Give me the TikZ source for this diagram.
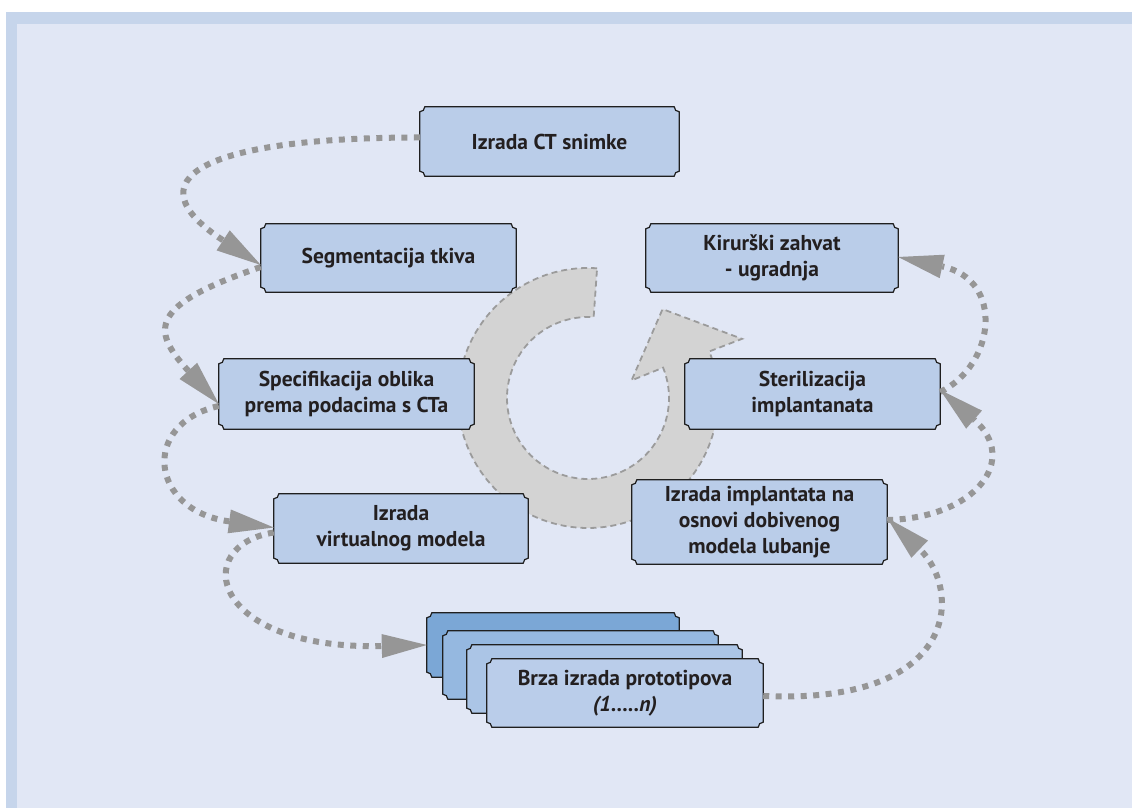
\documentclass[tikz,border=0pt]{standalone}
\usepackage{fontspec}
\setmainfont{PT Sans}
\usetikzlibrary{arrows.meta,calc}
\definecolor{bandc}{RGB}{198,213,235}
\definecolor{innerc}{RGB}{225,231,245}
\definecolor{boxc}{RGB}{186,205,233}
\definecolor{pa}{RGB}{123,167,214}
\definecolor{pb}{RGB}{149,184,224}
\definecolor{pc}{RGB}{171,197,230}
\definecolor{pd}{RGB}{186,205,234}
\definecolor{txtc}{RGB}{35,31,32}
\definecolor{dotc}{RGB}{150,150,150}
\definecolor{ringc}{RGB}{211,211,211}
\definecolor{ringb}{RGB}{155,155,155}
\pgfdeclarelayer{bg}
\pgfsetlayers{bg,main}
\newcommand{\nbox}[2]{%
  \path[draw=black!88, line width=1.2pt, fill=#2]
    ([xshift=5pt]#1.north west) -- ([xshift=-5pt]#1.north east)
    arc[start angle=180,end angle=270,radius=5pt]
    -- ([yshift=5pt]#1.south east)
    arc[start angle=90,end angle=180,radius=5pt]
    -- ([xshift=5pt]#1.south west)
    arc[start angle=0,end angle=90,radius=5pt]
    -- ([yshift=-5pt]#1.north west)
    arc[start angle=270,end angle=360,radius=5pt] -- cycle;}
\tikzset{
  lbl/.style={inner sep=0pt, align=center, text=txtc,
    font=\fontsize{21.5}{26}\selectfont\bfseries},
  conn/.style={draw=dotc, line width=6pt, dash pattern=on 6pt off 6.5pt,
    -{Triangle[length=45pt,width=24pt,fill=dotc,line width=0pt]}},
}
\begin{document}
\begin{tikzpicture}[x=1pt,y=1pt]
\useasboundingbox (0,0) rectangle (1132,808);

% nodes (text)
\node[lbl, minimum width=259pt, minimum height=69pt] (ct) at (549.5,666.5) {Izrada CT snimke};
\node[lbl, minimum width=255pt, minimum height=68pt] (seg) at (388.5,550) {Segmentacija tkiva};
\node[lbl, minimum width=252pt, minimum height=68pt] (kir) at (772,550) {Kirurški zahvat\\- ugradnja};
\node[lbl, minimum width=255pt, minimum height=70pt] (spec) at (346.5,414) {Specifikacija oblika\\prema podacima s CTa};
\node[lbl, minimum width=255pt, minimum height=70pt] (ster) at (812.5,414) {Sterilizacija\\implantanata};
\node[lbl, minimum width=254pt, minimum height=69pt] (virt) at (401,279.5) {Izrada\\virtualnog modela};
\node[lbl, minimum width=255pt, minimum height=84pt] (impl) at (759.5,286) {Izrada implantata na\\osnovi dobivenog\\modela lubanje};
\node[lbl, minimum width=252pt, minimum height=64pt] (p1) at (553,163) {};
\node[lbl, minimum width=275pt, minimum height=68pt] (p2) at (580.5,143) {};
\node[lbl, minimum width=275pt, minimum height=68pt] (p3) at (604.5,129) {};
\node[lbl, minimum width=276pt, minimum height=68pt] (p4) at (625,115) {Brza izrada prototipova\\\itshape(1.....n)};

\begin{pgfonlayer}{bg}
\fill[bandc] (6,0) rectangle (1132,796);
\fill[innerc] (17,0) rectangle (1132,784);
\coordinate (c) at (588,410);
\draw[fill=ringc, draw=ringb, line width=1.8pt, dash pattern=on 6pt off 4pt]
  ($(c)+(86:130)$) arc[start angle=86,end angle=381,radius=130]
  -- ($(c)+(21:165)$) -- ($(c)+(50:116)$) -- ($(c)+(22:47)$)
  -- ($(c)+(22:81)$) arc[start angle=22,end angle=-274,radius=81] -- cycle;
\nbox{ct}{boxc}
\nbox{seg}{boxc}
\nbox{kir}{boxc}
\nbox{spec}{boxc}
\nbox{ster}{boxc}
\nbox{virt}{boxc}
\nbox{impl}{boxc}
\nbox{p1}{pa}
\nbox{p2}{pb}
\nbox{p3}{pc}
\nbox{p4}{pd}
\end{pgfonlayer}

% connectors
\draw[conn] ([yshift=4pt]ct.west) .. controls +(-220,0) and +(-130,85) .. ([yshift=-7pt]seg.west);
\draw[conn] ([yshift=-9pt]seg.west) .. controls +(-111,-38) and +(-69,75) .. ([yshift=-10pt]spec.west);
\draw[conn] ([yshift=-12pt]spec.west) .. controls +(-79,-18) and +(-124,17) .. ([yshift=1pt]virt.west);
\draw[conn] ([yshift=-4pt]virt.west) .. controls +(-84,-13) and +(-217,-5) .. (p1.west);
\draw[conn] ([yshift=-3pt]p4.east) .. controls +(197,-9) and +(75,-72) .. ([yshift=4pt]impl.east);
\draw[conn] ([yshift=2pt]impl.east) .. controls +(88,2) and +(80,-70) .. ([yshift=4pt]ster.east);
\draw[conn] ([yshift=2pt]ster.east) .. controls +(55,27) and +(107,-23) .. ([yshift=1pt]kir.east);
\end{tikzpicture}
\end{document}
